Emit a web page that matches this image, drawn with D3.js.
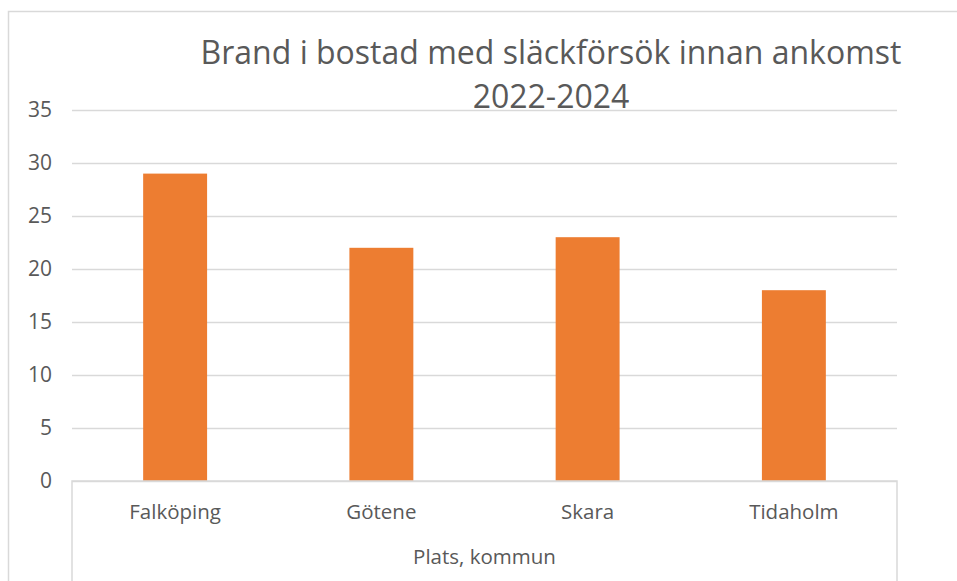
<!DOCTYPE html>
<html>
<head>
<meta charset="utf-8">
<script src="https://cdn.jsdelivr.net/npm/d3@7"></script>
<style>
  body { margin: 0; background: #fff; }
  svg text { font-family: "Open Sans", "Noto Sans", sans-serif; fill: #595959; }
</style>
</head>
<body>
<svg width="957" height="581"></svg>
<script>
const categories = ['Falköping', 'Götene', 'Skara', 'Tidaholm'];
const values = [29, 22, 23, 18];
const yTicks = [0, 5, 10, 15, 20, 25, 30, 35];
const titleLines = ['Brand i bostad med släckförsök innan ankomst', '2022-2024'];
const axisTitle = 'Plats, kommun';

const svg = d3.select('svg');
const width = +svg.attr('width');
const height = +svg.attr('height');

// chart area frame: only top and left edges are inside the picture
svg.append('path')
    .attr('d', `M8.5,${height}V11.5H${width}`)
    .attr('fill', 'none')
    .attr('stroke', '#d9d9d9')
    .attr('stroke-width', 1.5);

const margin = { top: 110, right: 60, bottom: 100, left: 72 };
const innerWidth = width - margin.left - margin.right;
const innerHeight = height - margin.top - margin.bottom;

const g = svg.append('g')
    .attr('transform', `translate(${margin.left}, ${margin.top})`);

const xScale = d3.scaleBand()
    .domain(categories)
    .range([0, innerWidth])
    .paddingInner(0.69)
    .paddingOuter(0.345);

const yScale = d3.scaleLinear()
    .domain([0, 35])
    .range([innerHeight, 0]);

// gridlines + labels
const yAxis = d3.axisLeft(yScale)
    .tickValues(yTicks)
    .tickSize(-innerWidth)
    .tickPadding(20);

const yAxisG = g.append('g').call(yAxis);
yAxisG.select('.domain').remove();
yAxisG.selectAll('.tick line')
    .attr('stroke', '#d9d9d9')
    .attr('stroke-width', 1.5);
yAxisG.selectAll('.tick text')
    .attr('font-size', 21)
    .attr('font-family', '"Open Sans", sans-serif')
    .attr('fill', '#595959');

g.selectAll('rect.bar')
    .data(values)
    .enter()
        .append('rect')
        .attr('class', 'bar')
        .attr('x', (d, i) => xScale(categories[i]))
        .attr('y', d => yScale(d))
        .attr('width', xScale.bandwidth())
        .attr('height', d => innerHeight - yScale(d))
        .attr('fill', '#ed7d31');

// category axis: baseline plus end separators of the multi-level axis
const xAxisG = g.append('g')
    .attr('transform', `translate(0, ${innerHeight})`);

xAxisG.append('path')
    .attr('d', `M0,${margin.bottom}V0H${innerWidth}V${margin.bottom}`)
    .attr('fill', 'none')
    .attr('stroke', '#d9d9d9')
    .attr('stroke-width', 1.5);

xAxisG.selectAll('text.cat')
    .data(categories)
    .enter()
        .append('text')
        .attr('class', 'cat')
        .attr('x', d => xScale(d) + xScale.bandwidth() / 2)
        .attr('y', 38)
        .attr('text-anchor', 'middle')
        .attr('font-size', 20.5)
        .text(d => d);

xAxisG.append('text')
    .attr('x', innerWidth / 2)
    .attr('y', 83)
    .attr('text-anchor', 'middle')
    .attr('font-size', 20.5)
    .text(axisTitle);

svg.selectAll('text.title')
    .data(titleLines)
    .enter()
        .append('text')
        .attr('class', 'title')
        .attr('x', 551)
        .attr('y', (d, i) => 64 + i * 44)
        .attr('text-anchor', 'middle')
        .attr('font-size', 32)
        .text(d => d);
</script>
</body>
</html>
